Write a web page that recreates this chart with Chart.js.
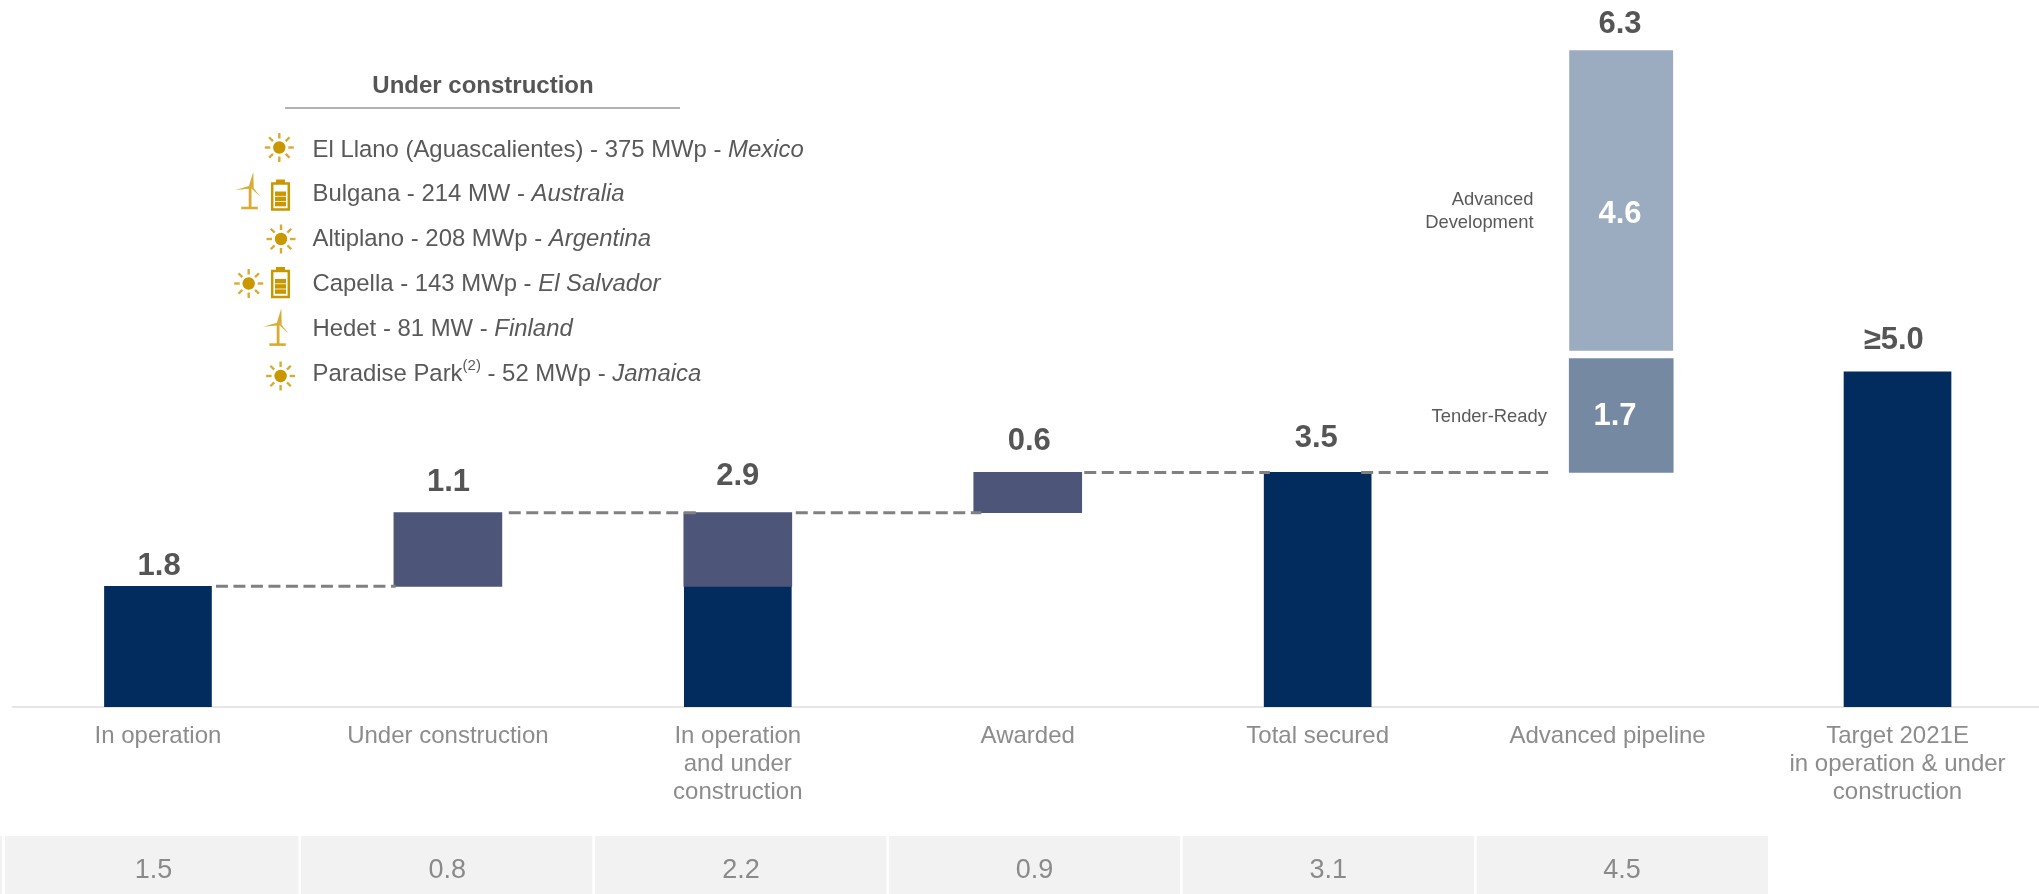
<!DOCTYPE html>
<html>
<head>
<meta charset="utf-8">
<title>Secured capacity</title>
<script src="https://cdn.jsdelivr.net/npm/chart.js@4"></script>
<style>
  html, body { margin: 0; padding: 0; background: #fff; overflow: hidden; }
  canvas { display: block; }
</style>
</head>
<body>
<canvas id="chart" width="2039" height="894"></canvas>
<script>
// data (GW)
const tickLabels = [
  "In operation",
  "Under construction",
  ["In operation", "and under", "construction"],
  "Awarded",
  "Total secured",
  "Advanced pipeline",
  ["Target 2021E", "in operation & under", "construction"]
];
const securedSlots = [0, 2, 4, 6];
const securedValues = [1.8, 1.8, 3.5, 5.0];
const stepSlots = [1, 2, 3];
const stepRanges = [[1.8, 2.9], [1.8, 2.9], [2.9, 3.5]];
const tenderRange = [3.5, 5.2];
const advancedRange = [5.2, 9.8];
const previousValues = ["1.5", "0.8", "2.2", "0.9", "3.1", "4.5"];
const totalLabels = ["1.8", "1.1", "2.9", "0.6", "3.5", "6.3", "≥5.0"];
const totalLevels = [1.8, 2.9, 2.9, 3.5, 3.5, 9.8, 5.0];
const connectorLevels = [1.8, 2.9, 2.9, 3.5, 3.5];
const projects = [
  { name: "El Llano (Aguascalientes) - 375 MWp - ", country: "Mexico" },
  { name: "Bulgana - 214 MW - ", country: "Australia" },
  { name: "Altiplano - 208 MWp - ", country: "Argentina" },
  { name: "Capella - 143 MWp - ", country: "El Salvador" },
  { name: "Hedet - 81 MW - ", country: "Finland" },
  { name: "Paradise Park", sup: "(2)", rest: " - 52 MWp - ", country: "Jamaica" }
];

// layout
const FONT = '"Liberation Sans", Arial, sans-serif';
const pipelineSlot = 5.047;
const connectorStarts = [0.2, 1.21, 2.2, 3.195, 4.15];
const connectorEnds = [0.82, 1.86, 2.84, 3.835, 4.8];
const labelSlots = [0.004, 1.002, 2, 3.005, 3.995, 5.043, 5.987];
const labelLift = [20, 30, 36, 31, 34, 26, 31];

const NAVY = "#022b5e", SLATE = "#4d5578", TENDER = "#7589a3", ADVANCED = "#9babc0";
const GOLD = "#c99700", GOLD_LIGHT = "#d8ab33";

function points(slots, values){
  return slots.map((s, i) => ({ x: s, y: values[i] }));
}

const connectorDatasets = connectorLevels.map((level, i) => ({
  type: "line",
  data: [{ x: connectorStarts[i], y: level }, { x: connectorEnds[i], y: level }],
  borderColor: "#808080",
  borderWidth: 3,
  borderDash: [12, 5.5],
  pointRadius: 0,
  order: 0
}));

// icons for the project list
function sun(ctx, cx, cy){
  ctx.fillStyle = GOLD;
  ctx.beginPath();
  ctx.arc(cx, cy, 6.2, 0, Math.PI * 2);
  ctx.fill();
  ctx.strokeStyle = GOLD_LIGHT;
  ctx.lineWidth = 2.4;
  for(let i = 0; i < 8; i++){
    const a = i * Math.PI / 4;
    ctx.beginPath();
    ctx.moveTo(cx + Math.cos(a) * 9, cy + Math.sin(a) * 9);
    ctx.lineTo(cx + Math.cos(a) * 14.5, cy + Math.sin(a) * 14.5);
    ctx.stroke();
  }
}

function battery(ctx, x, top){
  ctx.fillStyle = GOLD;
  ctx.fillRect(x + 5, top, 9, 4);
  ctx.strokeStyle = GOLD;
  ctx.lineWidth = 2.5;
  ctx.strokeRect(x + 1.2, top + 4, 16.6, 26);
  for(let i = 0; i < 3; i++){
    ctx.fillRect(x + 4, top + 12 + i * 5.2, 11, 4.4);
  }
}

function turbine(ctx, hx, hy){
  ctx.fillStyle = GOLD_LIGHT;
  const blades = [[2, -15], [-16, 3.4], [9.5, 10.5]];
  blades.forEach(b => {
    ctx.beginPath();
    ctx.moveTo(hx - 2.4, hy - 0.6);
    ctx.lineTo(hx + b[0], hy + b[1]);
    ctx.lineTo(hx + 2.4, hy + 1.6);
    ctx.closePath();
    ctx.fill();
  });
  ctx.fillRect(hx - 2.6, hy + 1, 2.8, 20.5);
  ctx.fillRect(hx - 10, hy + 20, 16.5, 2.6);
}

const overlay = {
  id: "overlay",
  afterDraw(chart){
    const ctx = chart.ctx;
    const x = chart.scales.x, y = chart.scales.y;
    ctx.save();
    ctx.textBaseline = "middle";

    // value labels above the bars
    ctx.textAlign = "center";
    ctx.font = "bold 31px " + FONT;
    ctx.fillStyle = "#555555";
    totalLabels.forEach((t, i) => {
      ctx.fillText(t, x.getPixelForValue(labelSlots[i]), y.getPixelForValue(totalLevels[i]) - labelLift[i]);
    });

    // labels inside the pipeline bar
    ctx.fillStyle = "#ffffff";
    ctx.fillText("4.6", 1620, 214);
    ctx.fillText("1.7", 1615, 416);

    ctx.textAlign = "right";
    ctx.font = "18.4px " + FONT;
    ctx.fillStyle = "#595959";
    ctx.fillText("Advanced", 1533.5, 200);
    ctx.fillText("Development", 1533.5, 223);
    ctx.fillText("Tender-Ready", 1547, 417);

    // row under the chart
    ctx.fillStyle = "#f2f2f2";
    ctx.fillRect(0, 836, 2, 58);
    ctx.fillRect(5, 836, 2, 58);
    previousValues.forEach((v, i) => {
      ctx.fillRect(7.1 + i * 293.9, 836, 291.4, 58);
    });
    ctx.textAlign = "center";
    ctx.font = "27px " + FONT;
    ctx.fillStyle = "#8a8a8a";
    previousValues.forEach((v, i) => {
      ctx.fillText(v, 153.5 + i * 293.7, 871);
    });

    // project list
    ctx.font = "bold 24px " + FONT;
    ctx.fillStyle = "#555555";
    ctx.fillText("Under construction", 483, 86);
    ctx.strokeStyle = "#999999";
    ctx.lineWidth = 1.5;
    ctx.beginPath();
    ctx.moveTo(285, 108);
    ctx.lineTo(680, 108);
    ctx.stroke();

    ctx.textAlign = "left";
    ctx.fillStyle = "#595959";
    projects.forEach((p, i) => {
      const ty = 150 + i * 44.8;
      let tx = 312.5;
      ctx.font = "23.9px " + FONT;
      ctx.fillText(p.name, tx, ty);
      tx += ctx.measureText(p.name).width;
      if(p.sup){
        ctx.font = "15px " + FONT;
        ctx.fillText(p.sup, tx, ty - 8);
        tx += ctx.measureText(p.sup).width;
        ctx.font = "23.9px " + FONT;
        ctx.fillText(p.rest, tx, ty);
        tx += ctx.measureText(p.rest).width;
      }
      ctx.font = "italic 23.9px " + FONT;
      ctx.fillText(p.country, tx, ty);
    });

    sun(ctx, 279.3, 147.5);
    turbine(ctx, 251.3, 186.7);
    battery(ctx, 271, 179.5);
    sun(ctx, 281, 239);
    sun(ctx, 248.7, 283.5);
    battery(ctx, 271, 267);
    turbine(ctx, 279.3, 323.3);
    sun(ctx, 280.6, 376);
    ctx.restore();
  }
};

new Chart(document.getElementById("chart"), {
  type: "bar",
  data: {
    datasets: [
      { data: points(securedSlots, securedValues), backgroundColor: NAVY, barThickness: 107, order: 2 },
      { data: points(stepSlots, stepRanges), backgroundColor: SLATE, barThickness: 108, order: 1 },
      { data: [{ x: pipelineSlot, y: tenderRange }], backgroundColor: TENDER, barThickness: 104, order: 1 },
      {
        data: [{ x: pipelineSlot, y: advancedRange }],
        backgroundColor: ADVANCED,
        borderColor: "#ffffff",
        borderWidth: { bottom: 8 },
        borderSkipped: false,
        barThickness: 104,
        order: 1
      },
      ...connectorDatasets
    ]
  },
  options: {
    responsive: false,
    animation: false,
    devicePixelRatio: 1,
    layout: { padding: { left: 12.5 } },
    datasets: { bar: { grouped: false } },
    plugins: { legend: { display: false }, tooltip: { enabled: false } },
    scales: {
      x: {
        type: "linear",
        offset: false,
        min: -0.5017,
        max: 6.488,
        grid: { display: false, drawTicks: false },
        border: { color: "#e6e6e6", width: 2 },
        afterBuildTicks(scale){ scale.ticks = tickLabels.map((l, i) => ({ value: i })); },
        afterFit(scale){ scale.height = 187; },
        ticks: {
          autoSkip: false,
          maxRotation: 0,
          padding: 15,
          color: "#8c8c8c",
          font: { family: FONT, size: 24, lineHeight: 1.167 },
          callback: (v, i) => tickLabels[i]
        }
      },
      y: { display: false, min: 0, max: 10.55, grid: { display: false } }
    }
  },
  plugins: [overlay]
});
</script>
</body>
</html>
